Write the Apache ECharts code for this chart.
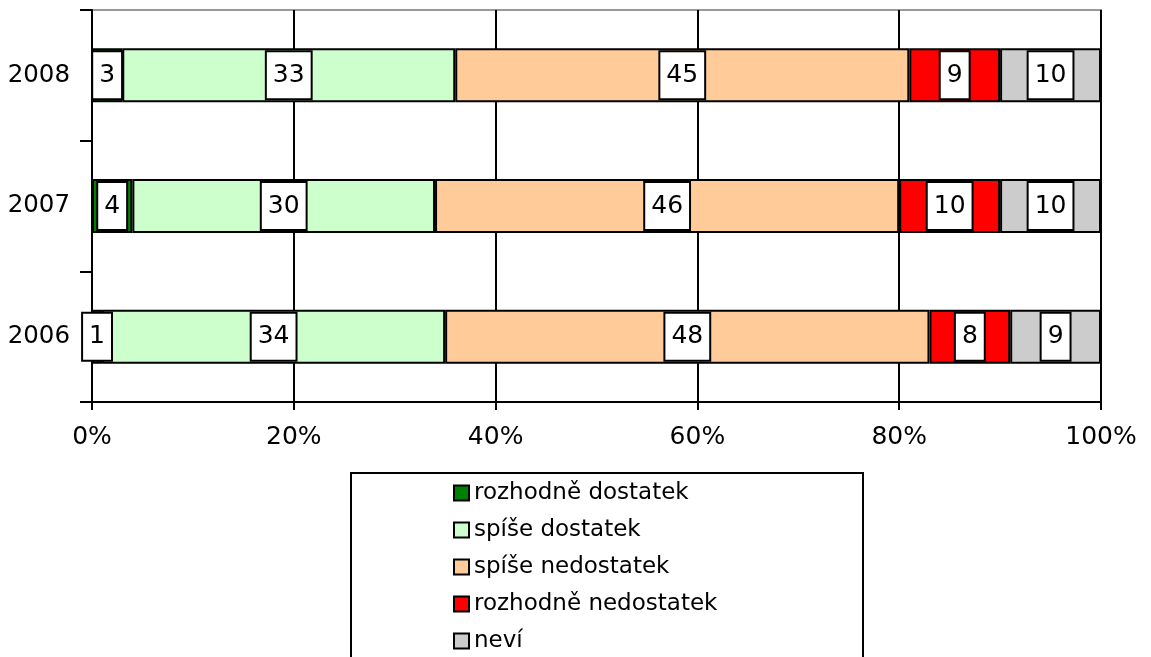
<!DOCTYPE html>
<html>
<head>
<meta charset="utf-8">
<script src="https://cdn.jsdelivr.net/npm/echarts@6/dist/echarts.min.js"></script>
<style>html,body{margin:0;padding:0;background:#fff}#c{width:1151px;height:657px}</style>
</head>
<body>
<div id="c"></div>
<script>
const categories = ['2006', '2007', '2008'];
const seriesNames = ['rozhodně dostatek', 'spíše dostatek', 'spíše nedostatek', 'rozhodně nedostatek', 'neví'];
const rozhodneDostatek = [1, 4, 3];
const spiseDostatek = [34, 30, 33];
const spiseNedostatek = [48, 46, 45];
const rozhodneNedostatek = [8, 10, 9];
const nevi = [9, 10, 10];
const xTicks = [0, 20, 40, 60, 80, 100];
const colors = ['#008000', '#CCFFCC', '#FFCC99', '#FF0000', '#CCCCCC'];

const FONT = 'DejaVu Sans';
const dataSets = [rozhodneDostatek, spiseDostatek, spiseNedostatek, rozhodneNedostatek, nevi];

const chart = echarts.init(document.getElementById('c'), null, {renderer: 'canvas'});
chart.setOption({
  animation: false,
  backgroundColor: '#fff',
  textStyle: {fontFamily: FONT},
  grid: {left: 92, right: 50, top: 10, bottom: 255, show: true, borderColor: '#999', borderWidth: 2, backgroundColor: 'transparent'},
  xAxis: {
    type: 'value', min: xTicks[0], max: xTicks[xTicks.length - 1], interval: 20,
    axisLine: {show: true, lineStyle: {color: '#000', width: 2}},
    axisTick: {show: true, length: 8, lineStyle: {color: '#000', width: 2}},
    splitLine: {show: true, lineStyle: {color: '#000', width: 2}},
    axisLabel: {formatter: '{value}%', color: '#000', fontSize: 25, fontFamily: FONT, margin: 23}
  },
  yAxis: {
    type: 'category', data: categories,
    axisLine: {show: true, lineStyle: {color: '#000', width: 2}},
    axisTick: {show: true, length: 12, lineStyle: {color: '#000', width: 2}},
    axisLabel: {color: '#000', fontSize: 24.5, fontFamily: FONT, margin: 22},
    splitLine: {show: false}
  },
  legend: {
    orient: 'vertical', left: 453, top: 481, padding: 0, itemGap: 13,
    itemWidth: 15, itemHeight: 15, icon: 'rect',
    itemStyle: {borderWidth: 2, borderColor: '#000'},
    textStyle: {fontSize: 23, fontFamily: FONT, color: '#000', lineHeight: 24},
    data: seriesNames
  },
  graphic: [{
    type: 'rect', left: 350, top: 472, z: -1,
    shape: {width: 512, height: 200},
    style: {fill: '#fff', stroke: '#000', lineWidth: 2}
  }],
  series: seriesNames.map((name, i) => ({
    name: name, type: 'bar', stack: 'total', barWidth: 54,
    data: dataSets[i],
    itemStyle: {color: colors[i], borderColor: '#000', borderWidth: 2},
    label: {
      show: true, position: 'inside', color: '#000', fontSize: 25, fontFamily: FONT,
      backgroundColor: '#fff', borderColor: '#000', borderWidth: 2, padding: [11, 6, 10, 6]
    }
  }))
});
</script>
</body>
</html>
